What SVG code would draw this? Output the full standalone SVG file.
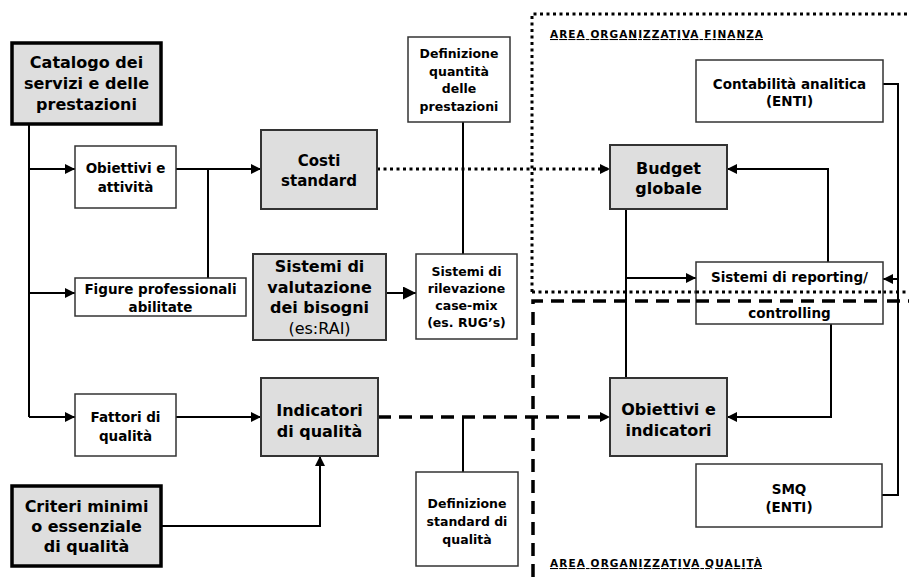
<svg xmlns="http://www.w3.org/2000/svg" width="909" height="577" viewBox="0 0 909 577">
  <defs>
    <style>
      .box { fill: #ffffff; stroke: #333333; stroke-width: 1.5; }
      .gbox { fill: #dedede; stroke: #333333; stroke-width: 2; }
      .kbox { fill: #dedede; stroke: #000000; stroke-width: 3.5; }
      .t { font-family: "DejaVu Sans", Verdana, sans-serif; font-weight: bold; fill: #000000; text-anchor: middle; }
      .n { font-weight: normal; }
      .s { font-size: 13.5px; }
      .xs { font-size: 12.5px; }
      .m { font-size: 15px; }
      .l { font-size: 16px; }
      .area { font-family: "DejaVu Sans", Verdana, sans-serif; font-weight: bold; font-size: 10.5px; fill: #000000; text-decoration: underline; }
      .ln { fill: none; stroke: #000000; stroke-width: 2; }
      .dot { fill: none; stroke: #000000; stroke-width: 3; stroke-dasharray: 3 3.5; }
      .dash { fill: none; stroke: #000000; stroke-width: 3.5; stroke-dasharray: 13 8; }
    </style>
    <marker id="arr" viewBox="0 0 10 10" refX="10" refY="5" markerWidth="11" markerHeight="10" markerUnits="userSpaceOnUse" orient="auto">
      <path d="M0,0 L10,5 L0,10 Z" fill="#000000"/>
    </marker>
    <marker id="arrBig" viewBox="0 0 10 10" refX="10" refY="5" markerWidth="14" markerHeight="13" markerUnits="userSpaceOnUse" orient="auto">
      <path d="M0,0 L10,5 L0,10 Z" fill="#000000"/>
    </marker>
  </defs>

  <rect width="909" height="577" fill="#ffffff"/>

  <!-- organisational areas -->
  <g id="area-finanza">
    <path class="dot" d="M532,292 V14 H909"/>
    <path class="dot" d="M532,292 H909"/>
    <text class="area" x="550" y="38" textLength="213" lengthAdjust="spacing">AREA ORGANIZZATIVA FINANZA</text>
  </g>
  <g id="area-qualita">
    <path class="dash" d="M533,577 V301 H909"/>
    <text class="area" x="550" y="567" textLength="212" lengthAdjust="spacing">AREA ORGANIZZATIVA QUALITÀ</text>
  </g>

  <!-- connectors -->
  <g id="connectors">
    <path class="ln" d="M29,124 V417"/>
    <path class="ln" d="M29,169 H75" marker-end="url(#arr)"/>
    <path class="ln" d="M29,293 H75" marker-end="url(#arr)"/>
    <path class="ln" d="M29,417 H75" marker-end="url(#arr)"/>
    <path class="ln" d="M176,169 H261" marker-end="url(#arr)"/>
    <path class="ln" d="M208,169 V278"/>
    <path class="ln" d="M176,417 H261" marker-end="url(#arr)"/>
    <path class="ln" d="M161,526 H320 V456" marker-end="url(#arr)"/>
    <path class="ln" d="M386,293 H416" stroke-width="4" marker-end="url(#arrBig)"/>
    <path class="ln" d="M463,122 V254"/>
    <path class="ln" d="M463,417 V472"/>
    <path class="dot" d="M377,169 H610" marker-end="url(#arr)"/>
    <path class="dash" d="M378,417 H610" marker-end="url(#arr)"/>
    <path class="ln" d="M626,209 V378"/>
    <path class="ln" d="M626,278 H696" marker-end="url(#arr)"/>
    <path class="ln" d="M828,262 V169 H727" marker-end="url(#arr)"/>
    <path class="ln" d="M831,324 V417 H727" marker-end="url(#arr)"/>
    <path class="ln" d="M883,84 H898 V495 H882"/>
    <path class="ln" d="M898,279 H883" marker-end="url(#arr)"/>
  </g>

  <!-- nodes -->
  <g id="catalogo">
    <rect class="kbox" x="12" y="43" width="149" height="81"/>
    <text class="t l" x="86.5" y="68">Catalogo dei</text>
    <text class="t l" x="86.5" y="89">servizi e delle</text>
    <text class="t l" x="86.5" y="110">prestazioni</text>
  </g>
  <g id="obiettivi-attivita">
    <rect class="box" x="75" y="146" width="101" height="62"/>
    <text class="t s" x="125.5" y="173">Obiettivi e</text>
    <text class="t s" x="125.5" y="192">attività</text>
  </g>
  <g id="figure-professionali">
    <rect class="box" x="75" y="278" width="171" height="38"/>
    <text class="t s" x="160.5" y="294">Figure professionali</text>
    <text class="t s" x="160.5" y="312">abilitate</text>
  </g>
  <g id="fattori-qualita">
    <rect class="box" x="75" y="394" width="101" height="62"/>
    <text class="t s" x="125.5" y="422">Fattori di</text>
    <text class="t s" x="125.5" y="441">qualità</text>
  </g>
  <g id="criteri-minimi">
    <rect class="kbox" x="12" y="486" width="149" height="80"/>
    <text class="t l" x="86.5" y="512">Criteri minimi</text>
    <text class="t l" x="86.5" y="532">o essenziale</text>
    <text class="t l" x="86.5" y="552">di qualità</text>
  </g>
  <g id="costi-standard">
    <rect class="gbox" x="261" y="130" width="116" height="79"/>
    <text class="t m" x="319" y="165.5">Costi</text>
    <text class="t m" x="319" y="185.5">standard</text>
  </g>
  <g id="sistemi-valutazione">
    <rect class="gbox" x="253" y="254" width="133" height="86"/>
    <text class="t l" x="319.5" y="272">Sistemi di</text>
    <text class="t l" x="319.5" y="292.5">valutazione</text>
    <text class="t l" x="319.5" y="313">dei bisogni</text>
    <text class="t l n" x="319.5" y="334">(es:RAI)</text>
  </g>
  <g id="indicatori-qualita">
    <rect class="gbox" x="261" y="378" width="117" height="78"/>
    <text class="t l" x="319.5" y="416">Indicatori</text>
    <text class="t l" x="319.5" y="437">di qualità</text>
  </g>
  <g id="definizione-quantita">
    <rect class="box" x="408" y="37" width="102" height="85"/>
    <text class="t xs" x="459" y="58">Definizione</text>
    <text class="t xs" x="459" y="75.5">quantità</text>
    <text class="t xs" x="459" y="93">delle</text>
    <text class="t xs" x="459" y="110.5">prestazioni</text>
  </g>
  <g id="sistemi-rilevazione">
    <rect class="box" x="416" y="254" width="101" height="85"/>
    <text class="t xs" x="466.5" y="276">Sistemi di</text>
    <text class="t xs" x="466.5" y="293">rilevazione</text>
    <text class="t xs" x="466.5" y="310">case-mix</text>
    <text class="t xs" x="466.5" y="327">(es. RUG’s)</text>
  </g>
  <g id="definizione-standard">
    <rect class="box" x="416" y="472" width="102" height="94"/>
    <text class="t xs" x="467" y="507.5">Definizione</text>
    <text class="t xs" x="467" y="525.5">standard di</text>
    <text class="t xs" x="467" y="543.5">qualità</text>
  </g>
  <g id="budget-globale">
    <rect class="gbox" x="610" y="145" width="117" height="64"/>
    <text class="t l" x="668.5" y="174">Budget</text>
    <text class="t l" x="668.5" y="194">globale</text>
  </g>
  <g id="obiettivi-indicatori">
    <rect class="gbox" x="610" y="378" width="117" height="78"/>
    <text class="t l" x="668.5" y="415">Obiettivi e</text>
    <text class="t l" x="668.5" y="436">indicatori</text>
  </g>
  <g id="contabilita-analitica">
    <rect class="box" x="696" y="60" width="187" height="62"/>
    <text class="t s" x="789.5" y="89">Contabilità analitica</text>
    <text class="t s" x="789.5" y="105.5">(ENTI)</text>
  </g>
  <g id="sistemi-reporting">
    <rect class="box" x="696" y="262" width="187" height="62"/>
    <text class="t s" x="789.5" y="282">Sistemi di reporting/</text>
    <text class="t s" x="789.5" y="318">controlling</text>
  </g>
  <g id="smq">
    <rect class="box" x="696" y="464" width="186" height="63"/>
    <text class="t s" x="789" y="494">SMQ</text>
    <text class="t s" x="789" y="512">(ENTI)</text>
  </g>

  <!-- area boundaries crossing the reporting box -->
  <path class="dot" d="M696,292 H883"/>
  <path class="dash" d="M696,301 H883"/>
</svg>
